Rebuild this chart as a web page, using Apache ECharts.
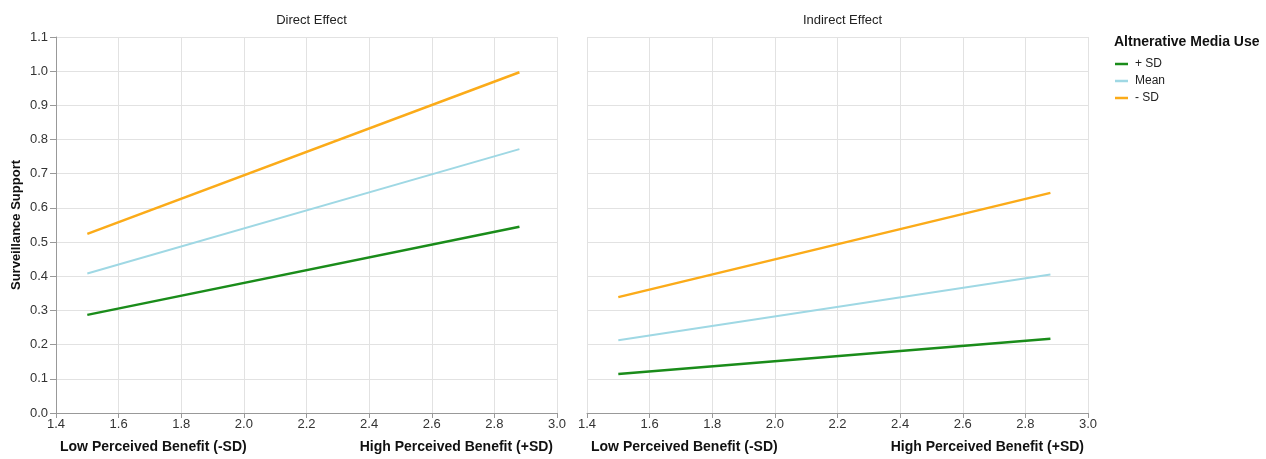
<!DOCTYPE html>
<html><head><meta charset="utf-8">
<script src="https://cdn.jsdelivr.net/npm/echarts@6/dist/echarts.min.js"></script>
<style>html,body{margin:0;padding:0;background:#fff}#c{width:1266px;height:459px}</style>
</head><body><div id="c"></div>
<script>
const panelTitles = ["Direct Effect", "Indirect Effect"];
const groups = ["+ SD", "Mean", "- SD"];
const groupColors = ["#1a8c1a", "#9fd8e4", "#fbab19"];
const xPoints = [1.5, 2.88];
const directPlus = [0.287, 0.545];
const directMean = [0.408, 0.772];
const directMinus = [0.524, 0.997];
const indirectPlus = [0.114, 0.217];
const indirectMean = [0.213, 0.405];
const indirectMinus = [0.339, 0.644];
const xLabelLow = "Low Perceived Benefit (-SD)";
const xLabelHigh = "High Perceived Benefit (+SD)";
const yName = "Surveillance Support";
const legendTitle = "Altnerative Media Use";

const font = "'Liberation Sans', Arial, sans-serif";
const panels = [[directPlus, directMean, directMinus], [indirectPlus, indirectMean, indirectMinus]];
const grids = [
  {left: 56, top: 37, width: 501, height: 376},
  {left: 587, top: 37, width: 501, height: 376}
];
const xAxes = grids.map((g, i) => ({
  type: 'value', gridIndex: i, min: 1.4, max: 3.0, interval: 0.2,
  axisLine: {show: true, lineStyle: {color: '#999', width: 1}},
  axisTick: {show: true, length: 5, lineStyle: {color: '#999'}},
  axisLabel: {fontFamily: font, fontSize: 13, color: '#333', margin: 5, formatter: v => v.toFixed(1)},
  splitLine: {show: true, lineStyle: {color: '#e2e2e2', width: 1}}
}));
const yAxes = grids.map((g, i) => ({
  type: 'value', gridIndex: i, min: 0, max: 1.1, interval: 0.1,
  name: i === 0 ? yName : '', nameLocation: 'middle', nameGap: 33,
  nameTextStyle: {fontFamily: font, fontSize: 13, fontWeight: 'bold', color: '#111'},
  axisLine: {show: i === 0, lineStyle: {color: '#999', width: 1}},
  axisTick: {show: i === 0, length: 6, lineStyle: {color: '#999'}},
  axisLabel: {show: i === 0, fontFamily: font, fontSize: 13, color: '#333', margin: 8, formatter: v => v.toFixed(1)},
  splitLine: {show: true, lineStyle: {color: '#e2e2e2', width: 1}}
}));
const series = [];
panels.forEach((vals, p) => {
  vals.forEach((arr, k) => {
    series.push({
      name: groups[k], type: 'line', xAxisIndex: p, yAxisIndex: p,
      data: xPoints.map((x, j) => [x, arr[j]]),
      showSymbol: false, symbol: 'none',
      lineStyle: {color: groupColors[k], width: k === 1 ? 2 : 2.5},
      itemStyle: {color: groupColors[k]},
      animation: false, silent: true
    });
  });
});
const chart = echarts.init(document.getElementById('c'), null, {renderer: 'canvas'});
chart.setOption({
  backgroundColor: '#fff',
  animation: false,
  title: panelTitles.map((t, i) => ({
    text: t, left: grids[i].left + grids[i].width / 2, top: 9, textAlign: 'center',
    textStyle: {fontFamily: font, fontSize: 13, fontWeight: 'normal', color: '#222'}
  })),
  legend: {
    data: groups, orient: 'vertical', left: 1115, top: 58, itemGap: 5, padding: 0,
    icon: 'rect', itemWidth: 13, itemHeight: 2.5,
    textStyle: {fontFamily: font, fontSize: 12, color: '#222', padding: [0, 0, 0, 2]},
    selectedMode: false
  },
  grid: grids,
  xAxis: xAxes,
  yAxis: yAxes,
  series: series,
  graphic: [
    {type: 'text', left: 1114, top: 35, style: {text: legendTitle, fontFamily: font, fontSize: 14, fontWeight: 'bold', fill: '#111'}},
    {type: 'text', left: 60, top: 440, style: {text: xLabelLow, fontFamily: font, fontSize: 14, fontWeight: 'bold', fill: '#111'}},
    {type: 'text', right: 1266 - 553, top: 440, style: {text: xLabelHigh, fontFamily: font, fontSize: 14, fontWeight: 'bold', fill: '#111'}},
    {type: 'text', left: 591, top: 440, style: {text: xLabelLow, fontFamily: font, fontSize: 14, fontWeight: 'bold', fill: '#111'}},
    {type: 'text', right: 1266 - 1084, top: 440, style: {text: xLabelHigh, fontFamily: font, fontSize: 14, fontWeight: 'bold', fill: '#111'}}
  ]
});
</script></body></html>
